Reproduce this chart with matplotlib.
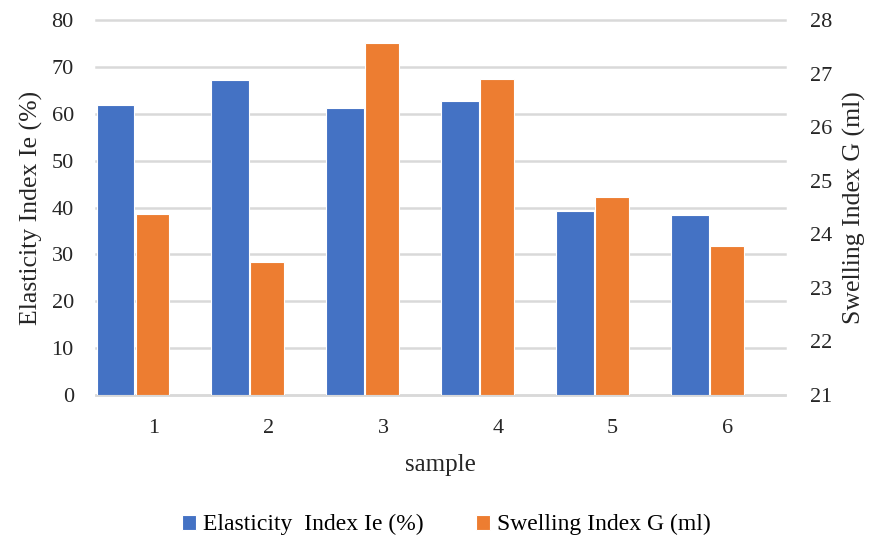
import matplotlib
matplotlib.use("Agg")
import matplotlib.pyplot as plt
import numpy as np

plt.rcParams['font.family'] = ['Liberation Serif', 'DejaVu Serif']

## values
samples = ['1', '2', '3', '4', '5', '6']
elasticity = [61.9, 67.1, 61.2, 62.7, 39.3, 38.5]   # Ie (%), left axis
swelling = [24.38, 23.48, 27.58, 26.89, 24.69, 23.79]  # G (ml), right axis

blue = '#4472C4'
orange = '#ED7D31'
grid_col = '#D9D9D9'

fig = plt.figure(figsize=(8.75, 5.41), dpi=100)
ax = fig.add_axes([0.1097, 0.2699, 0.7874, 0.6931])
ax2 = ax.twinx()

x = np.arange(len(samples))
# bars sit in the left part of each category, as in the original
b1 = ax.bar(x - 0.495, elasticity, width=0.33, align='edge', color=blue,
            edgecolor='white', linewidth=0.8, zorder=3, label='Elasticity  Index Ie (%)')
b2 = ax2.bar(x - 0.155, np.array(swelling) - 21, bottom=21, width=0.295, align='edge',
             color=orange, edgecolor='white', linewidth=0.8, zorder=3, label='Swelling Index G (ml)')

ax.set_xlim(-0.5, len(samples) - 0.5)
ax.set_ylim(0, 80)
ax.set_yticks(range(0, 81, 10))
ax2.set_ylim(21, 28)
ax2.set_yticks(range(21, 29))
ax.set_xticks(x)
ax.set_xticklabels(samples)

ax.yaxis.grid(True, color=grid_col, linewidth=1.8, zorder=0, clip_on=False)
ax.set_axisbelow(True)

for a in (ax, ax2):
    for s in a.spines.values():
        s.set_visible(False)
    a.tick_params(length=0, labelsize=16, colors='#262626')
ax.spines['bottom'].set_visible(True)
ax.spines['bottom'].set_color(grid_col)
ax.spines['bottom'].set_linewidth(1.8)
ax.tick_params(axis='x', pad=17)
ax.tick_params(axis='y', pad=16)
ax2.tick_params(axis='y', pad=18)

ax.set_ylabel('Elasticity Index Ie (%)', fontsize=18.5, color='#262626', labelpad=6)
ax2.set_ylabel('Swelling Index G (ml)', fontsize=18.5, color='#262626', labelpad=8)
ax.set_xlabel('sample', fontsize=18, color='#262626', labelpad=12)

fig.legend(handles=[b1, b2], loc='center', bbox_to_anchor=(0.51, 0.03), ncol=2,
           frameon=False, fontsize=17, handlelength=0.6, handleheight=0.6,
           handletextpad=0.3, columnspacing=2.2)

fig.savefig('out.png', dpi=100)
